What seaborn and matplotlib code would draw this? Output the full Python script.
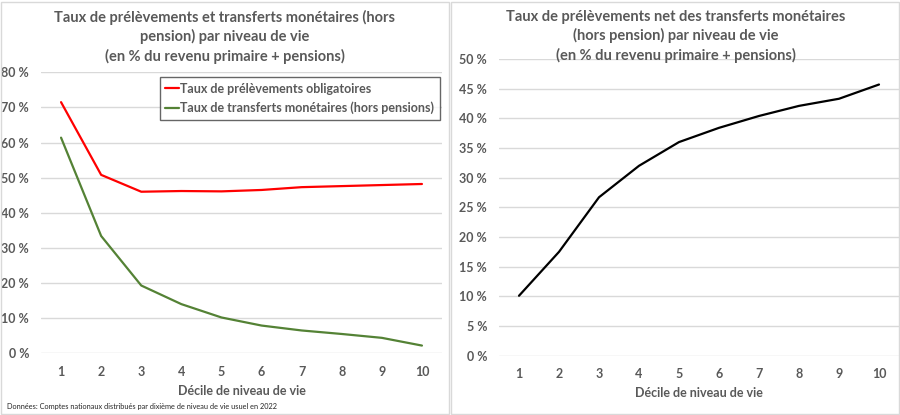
import matplotlib
matplotlib.use("Agg")
import matplotlib.pyplot as plt
import matplotlib.patches as mpatches
from matplotlib.ticker import FuncFormatter, MultipleLocator
import seaborn as sns
import pandas as pd

sns.set_theme(style="white")
plt.rcParams['font.family'] = ['Lato', 'DejaVu Sans']

deciles = [1, 2, 3, 4, 5, 6, 7, 8, 9, 10]
prelevements = [71.5, 50.8, 46.0, 46.2, 46.1, 46.5, 47.3, 47.6, 47.9, 48.2]
transferts = [61.4, 33.4, 19.3, 14.0, 10.2, 7.9, 6.5, 5.5, 4.4, 2.2]
net = [10.1, 17.5, 26.7, 32.0, 36.0, 38.4, 40.4, 42.1, 43.3, 45.7]

lab_prel = "Taux de prélèvements obligatoires"
lab_trans = "Taux de transferts monétaires (hors pensions)"
title_left = "Taux de prélèvements et transferts monétaires (hors\npension) par niveau de vie\n(en % du revenu primaire + pensions)"
title_right = "Taux de prélèvements net des transferts monétaires\n(hors pension) par niveau de vie\n(en % du revenu primaire + pensions)"
xlabel = "Décile de niveau de vie"
source = "Données: Comptes nationaux distribués par dixième de niveau de vie usuel en 2022"

GREY = "#595959"
GRID = "#d9d9d9"
W, H = 900, 415

fig = plt.figure(figsize=(9, 4.15), dpi=100)

# panel borders
for x0, x1 in [(1, 449), (451, 899)]:
    fig.patches.append(mpatches.Rectangle((x0 / W, 1 / H), (x1 - x0) / W, (413 - 1) / H,
                                          transform=fig.transFigure, fill=False,
                                          edgecolor=GRID, linewidth=1))

def px_axes(left, right, top, bottom):
    return fig.add_axes([left / W, 1 - bottom / H, (right - left) / W, (bottom - top) / H])

axL = px_axes(41, 442, 72.3, 353.3)
axR = px_axes(499, 899, 59, 355.7)

dfL = pd.DataFrame({"decile": deciles * 2,
                    "valeur": prelevements + transferts,
                    "serie": [lab_prel] * 10 + [lab_trans] * 10})
sns.lineplot(data=dfL, x="decile", y="valeur", hue="serie",
             palette={lab_prel: "#ff0000", lab_trans: "#548235"},
             linewidth=1.6, ax=axL)
dfR = pd.DataFrame({"decile": deciles, "valeur": net})
sns.lineplot(data=dfR, x="decile", y="valeur", color="black", linewidth=1.6, ax=axR)

pct = FuncFormatter(lambda v, p: f"{v:.0f} %")
for ax, top, step in [(axL, 80, 10), (axR, 50, 5)]:
    ax.set_xlim(0.5, 10.5)
    ax.set_ylim(0, top)
    ax.yaxis.set_major_locator(MultipleLocator(step))
    ax.yaxis.set_major_formatter(pct)
    ax.set_xticks(deciles)
    ax.grid(axis="y", color=GRID, linewidth=1)
    ax.set_axisbelow(True)
    for s in ax.spines.values():
        s.set_visible(False)
    ax.tick_params(axis="both", length=0, labelsize=9, labelcolor=GREY)
    ax.tick_params(axis="y", pad=8.5)
    ax.tick_params(axis="x", pad=9)
    for t in ax.get_xticklabels() + ax.get_yticklabels():
        t.set_fontweight("bold")
    ax.set_xlabel(xlabel, fontsize=9, fontweight="bold", color=GREY, labelpad=5)
    ax.set_ylabel("")

leg = axL.legend(loc="upper right", bbox_to_anchor=(440 / W, 1 - 77 / H),
                 bbox_transform=fig.transFigure, borderaxespad=0, frameon=True,
                 fancybox=False, handlelength=1.1, handletextpad=0.1,
                 fontsize=9, labelspacing=0.55, borderpad=0.45)
leg.get_frame().set_edgecolor("#404040")
leg.get_frame().set_linewidth(1)
for t in leg.get_texts():
    t.set_color(GREY)
    t.set_fontweight("bold")
leg.set_title(None)

fig.text(225 / W, 1 - 10 / H, title_left, ha="center", va="top", fontsize=10.5,
         fontweight="bold", color=GREY, linespacing=1.35)
fig.text(676 / W, 1 - 10 / H, title_right, ha="center", va="top", fontsize=10.5,
         fontweight="bold", color=GREY, linespacing=1.35)
fig.text(7 / W, 1 - 406 / H, source, ha="left", va="center", fontsize=5.3, color="#262626")

fig.savefig("out.png", dpi=100)
